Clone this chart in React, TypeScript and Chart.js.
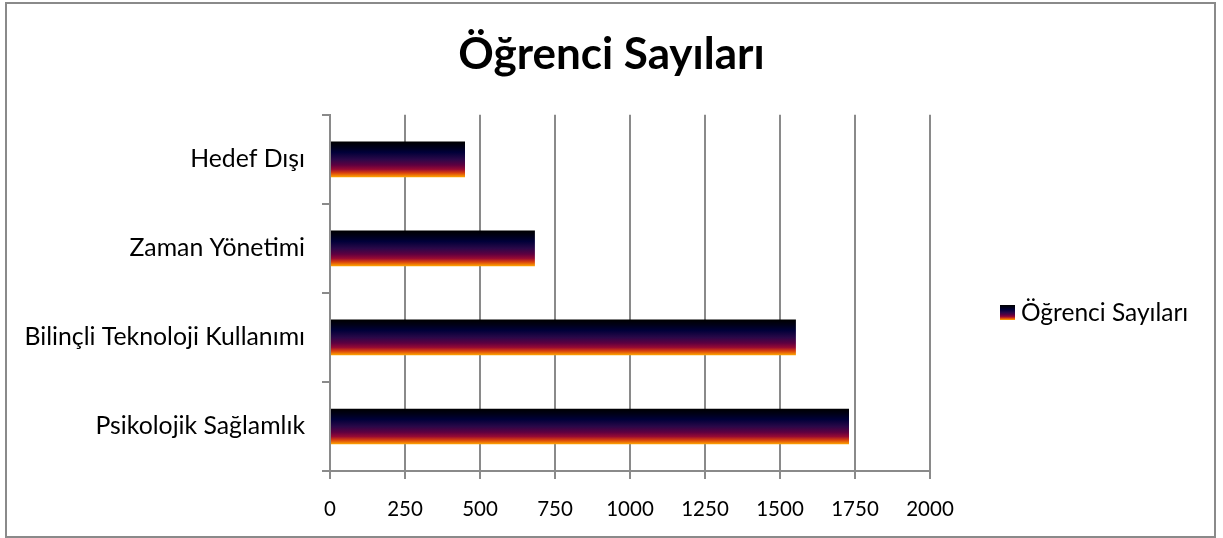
import React, { useEffect, useRef } from 'react';
import { Chart, registerables } from 'chart.js';

Chart.register(...registerables);

const categories = ['Hedef Dışı', 'Zaman Yönetimi', 'Bilinçli Teknoloji Kullanımı', 'Psikolojik Sağlamlık'];
const values = [450, 683, 1553, 1730];
const seriesName = 'Öğrenci Sayıları';
const titleText = 'Öğrenci Sayıları';
const xMin = 0;
const xMax = 2000;
const xStep = 250;

const FONT = "Lato, 'Open Sans', sans-serif";
const GRID = '#8a8a8a';

const gradientStops: [number, string][] = [
  [0, '#000000'],
  [0.15, '#000018'],
  [0.3, '#000038'],
  [0.5, '#2a0848'],
  [0.66, '#5e0040'],
  [0.78, '#960a34'],
  [0.88, '#d8400e'],
  [1, '#ffa800'],
];

function makeGrad(ctx: CanvasRenderingContext2D, top: number, bottom: number) {
  const g = ctx.createLinearGradient(0, top, 0, bottom);
  gradientStops.forEach(([o, c]) => g.addColorStop(o, c));
  return g;
}

const BAR_FRACTION = 0.4;

function barFill(c: any) {
  const chart = c.chart;
  const ys = chart.scales && chart.scales.y;
  if (!ys || c.dataIndex === undefined) return '#000033';
  const center = ys.getPixelForValue(c.dataIndex);
  const half = ((ys.height / categories.length) * BAR_FRACTION) / 2;
  if (!isFinite(center) || !isFinite(half) || half <= 0) return '#000033';
  return makeGrad(chart.ctx, center - half, center + half);
}

const frameAndLegend = {
  id: 'frameAndLegend',
  beforeDraw(chart: any) {
    const ctx = chart.ctx as CanvasRenderingContext2D;
    ctx.save();
    ctx.fillStyle = '#ffffff';
    ctx.fillRect(0, 0, chart.width, chart.height);
    ctx.strokeStyle = GRID;
    ctx.lineWidth = 2;
    ctx.strokeRect(6, 3, 1209, 534);
    ctx.restore();
  },
  afterDraw(chart: any) {
    const ctx = chart.ctx as CanvasRenderingContext2D;
    const label = chart.data.datasets[0].label as string;
    ctx.save();
    const x = 1000;
    const y = 305;
    const s = 15;
    ctx.fillStyle = makeGrad(ctx, y, y + s);
    ctx.fillRect(x, y, s, s);
    ctx.fillStyle = '#000000';
    ctx.font = `24.5px ${FONT}`;
    ctx.textBaseline = 'middle';
    ctx.textAlign = 'left';
    ctx.fillText(label, 1021, 313);
    ctx.restore();
  },
};

export default function App() {
  const ref = useRef<HTMLCanvasElement | null>(null);

  useEffect(() => {
    if (!ref.current) return;
    const chart = new Chart(ref.current, {
      type: 'bar',
      data: {
        labels: categories,
        datasets: [
          {
            label: seriesName,
            data: values,
            barPercentage: BAR_FRACTION,
            categoryPercentage: 1,
            backgroundColor: barFill,
            borderWidth: 0,
          },
        ],
      },
      options: {
        indexAxis: 'y',
        animation: false,
        responsive: false,
        maintainAspectRatio: false,
        devicePixelRatio: 1,
        layout: { padding: { left: 0, right: 0, top: 0, bottom: 0 } },
        plugins: {
          legend: { display: false },
          tooltip: { enabled: false },
          title: {
            display: true,
            text: titleText,
            color: '#000000',
            font: { family: FONT, size: 44, weight: 'bold', lineHeight: 1.2 },
            padding: { top: 28, bottom: 34 },
          },
        },
        scales: {
          x: {
            type: 'linear',
            min: xMin,
            max: xMax,
            afterBuildTicks: (scale: any) => {
              const t = [];
              for (let v = xMin; v <= xMax; v += xStep) t.push({ value: v });
              scale.ticks = t;
            },
            ticks: {
              color: '#000000',
              font: { family: FONT, size: 20.5 },
              padding: 18,
              maxRotation: 0,
              autoSkip: false,
              callback: (v: any) => String(v),
            },
            grid: {
              color: GRID,
              lineWidth: 2,
              drawTicks: true,
              tickLength: 8,
              tickColor: GRID,
            },
            border: { display: true, color: GRID, width: 2 },
            afterFit: (scale: any) => {
              scale.height = 67;
            },
          },
          y: {
            type: 'category',
            ticks: {
              color: '#000000',
              font: { family: FONT, size: 24.8 },
              padding: 17,
            },
            grid: {
              offset: true,
              drawOnChartArea: false,
              drawTicks: true,
              tickLength: 8,
              color: GRID,
              lineWidth: 2,
            },
            border: { display: true, color: GRID, width: 2 },
            afterFit: (scale: any) => {
              scale.width = 330;
            },
          },
          spacer: {
            type: 'linear',
            position: 'right',
            display: true,
            grid: { display: false, drawOnChartArea: false },
            border: { display: false },
            ticks: { display: false },
            afterFit: (scale: any) => {
              scale.width = 293;
            },
          },
        },
      },
      plugins: [frameAndLegend],
    });
    return () => chart.destroy();
  }, []);

  return (
    <div style={{ position: 'fixed', left: 0, top: 0, width: 1223, height: 538, background: '#fff' }}>
      <canvas ref={ref} width={1223} height={538} style={{ width: 1223, height: 538, display: 'block' }} />
    </div>
  );
}
